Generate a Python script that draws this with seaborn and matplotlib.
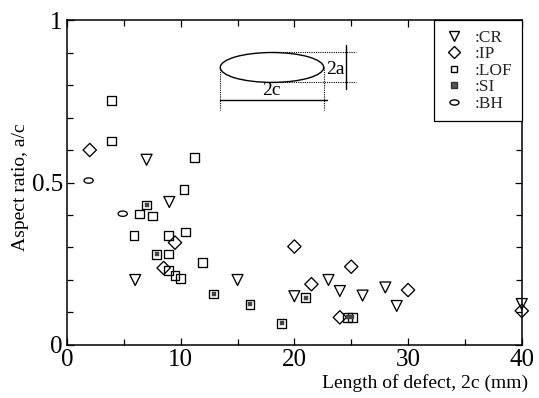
import numpy as np
import pandas as pd
import matplotlib
matplotlib.use("Agg")
import matplotlib.pyplot as plt
import seaborn as sns
from matplotlib.path import Path
from matplotlib.patches import Ellipse
from matplotlib.lines import Line2D
from matplotlib.transforms import Affine2D
from matplotlib.ticker import FixedLocator, FixedFormatter, MultipleLocator

# ---- data ----
cr_x = [7.0, 9.0, 6.0, 15.0, 20.0, 23.0, 24.0, 26.0, 28.0, 29.0, 40.0]
cr_y = [0.57, 0.44, 0.20, 0.20, 0.15, 0.20, 0.166, 0.152, 0.177, 0.12, 0.126]
ip_x = [2.0, 9.5, 8.5, 20.0, 21.5, 25.0, 30.0, 24.0, 40.0]
ip_y = [0.60, 0.315, 0.237, 0.303, 0.187, 0.241, 0.169, 0.085, 0.105]
lof_x = [3.9, 3.9, 11.2, 10.3, 6.4, 7.5, 5.9, 8.9, 10.4, 8.9, 8.9, 9.5, 10.0, 11.9]
lof_y = [0.752, 0.628, 0.578, 0.479, 0.403, 0.397, 0.336, 0.338, 0.348, 0.28, 0.229, 0.215, 0.205, 0.253]
si_x = [7.0, 7.9, 12.9, 16.1, 18.9, 21.0, 24.7, 25.1]
si_y = [0.431, 0.279, 0.157, 0.125, 0.067, 0.146, 0.085, 0.085]
bh_x = [1.9, 4.9]
bh_y = [0.506, 0.404]

labels = [":CR", ":IP", ":LOF", ":SI", ":BH"]
x_ticks = [0, 10, 20, 30, 40]
x_tick_labels = ["0", "10", "20", "30", "40"]
y_ticks = [0, 0.5, 1]
y_tick_labels = ["0", "0.5", "1"]

sns.set_theme(style="white")
plt.rcParams["font.family"] = ["Liberation Serif", "DejaVu Serif"]
plt.rcParams["mathtext.fontset"] = "stix"

fig = plt.figure(figsize=(5.39, 3.98), dpi=100)
ax = fig.add_axes([0.1243, 0.1332, 0.968 - 0.1243, 0.9497 - 0.1332])

ellipse_marker = Path.unit_circle().transformed(Affine2D().scale(1.0, 0.58))

groups = [
    (cr_x, cr_y, "v", 62),
    (ip_x, ip_y, "D", 46),
    (lof_x, lof_y, "s", 40),
    (si_x, si_y, "s", 40),
    (bh_x, bh_y, ellipse_marker, 44),
]
for gx, gy, mk, sz in groups:
    df = pd.DataFrame({"x": gx, "y": gy})
    sns.scatterplot(data=df, x="x", y="y", marker=mk, s=sz, facecolor="none",
                    edgecolor="black", linewidth=0.95, clip_on=False, zorder=5, ax=ax)
# inner fill of SI markers
df_si = pd.DataFrame({"x": si_x, "y": si_y})
sns.scatterplot(data=df_si, x="x", y="y", marker="s", s=7, facecolor="#444444",
                edgecolor="#444444", linewidth=0.3, clip_on=False, zorder=6, ax=ax)

# ---- inset sketch of the defect ----
ax.add_patch(Ellipse((18.03, 0.854), 9.1, 0.092, facecolor="none", edgecolor="black", lw=1.0, zorder=3))
dot = dict(color="black", lw=0.8, ls=(0, (1, 1)), zorder=3)
ax.plot([13.48, 13.48], [0.854, 0.723], **dot)
ax.plot([22.58, 22.58], [0.854, 0.723], **dot)
ax.plot([17.9, 25.4], [0.9006, 0.9006], **dot)
ax.plot([17.9, 25.4], [0.808, 0.808], **dot)
ax.plot([13.48, 22.88], [0.754, 0.754], color="black", lw=1.0, zorder=3)
ax.plot([24.55, 24.55], [0.923, 0.787], color="black", lw=1.0, zorder=3)
ax.text(18.0, 0.758, "2c", ha="center", va="bottom", fontsize=14, color="black")
ax.text(24.45, 0.848, "2a", ha="right", va="center", fontsize=14, color="black")

# ---- axes ----
ax.set_xlim(0, 40)
ax.set_ylim(0, 1)
ax.xaxis.set_major_locator(FixedLocator(x_ticks))
ax.xaxis.set_major_formatter(FixedFormatter(x_tick_labels))
ax.yaxis.set_major_locator(FixedLocator(y_ticks))
ax.yaxis.set_major_formatter(FixedFormatter(y_tick_labels))
ax.xaxis.set_minor_locator(MultipleLocator(5))
ax.yaxis.set_minor_locator(MultipleLocator(0.1))
ax.tick_params(which="both", direction="in", top=True, right=True, bottom=True, left=True,
               color="black", width=0.9)
ax.tick_params(which="major", length=5, labelsize=18, pad=3, labelcolor="black")
ax.tick_params(which="minor", length=4.5)
for sp in ax.spines.values():
    sp.set_visible(True)
    sp.set_color("black")
    sp.set_linewidth(1.1)

ax.set_xlabel("Length of defect, 2c (mm)", fontsize=14, color="black", ha="right")
ax.xaxis.set_label_coords(1.013, -0.09)
ax.set_ylabel("Aspect ratio, a/c", fontsize=14, color="black")
ax.yaxis.set_label_coords(-0.083, 0.485)

# ---- legend ----
handles = [
    Line2D([], [], ls="none", marker="v", ms=6.5, mfc="none", mec="black", mew=1.0),
    Line2D([], [], ls="none", marker="D", ms=6, mfc="none", mec="black", mew=1.0),
    Line2D([], [], ls="none", marker="s", ms=5, mfc="none", mec="black", mew=1.0),
    Line2D([], [], ls="none", marker="s", ms=5, mfc="#555555", mec="#333333", mew=1.0),
    Line2D([], [], ls="none", marker=ellipse_marker, ms=6.5, mfc="none", mec="black", mew=1.0),
]
leg = ax.legend(handles, labels, loc="upper right", bbox_to_anchor=(1, 1), borderaxespad=0,
                frameon=True, fancybox=False, framealpha=1, edgecolor="black",
                fontsize=12.5, handlelength=1.3, handletextpad=0.5, labelspacing=0.02,
                borderpad=0.55)
leg.get_frame().set_linewidth(0.9)
leg.set_zorder(10)

fig.savefig("out.png", dpi=100, facecolor="white")
